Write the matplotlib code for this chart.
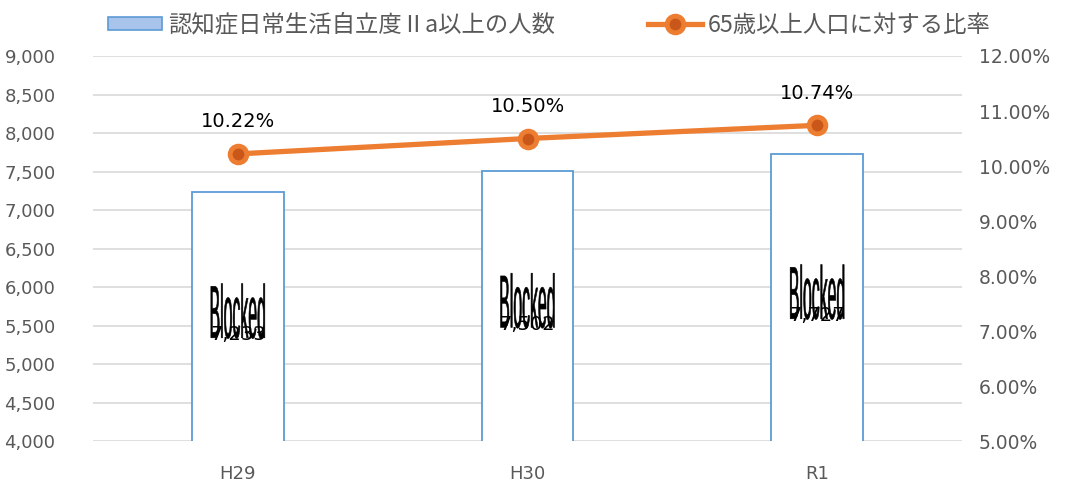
import matplotlib
matplotlib.use("Agg")
import matplotlib.pyplot as plt
from matplotlib.patches import Patch, PathPatch
from matplotlib.lines import Line2D
from matplotlib.textpath import TextPath
from matplotlib.font_manager import FontProperties
from matplotlib.transforms import Affine2D, ScaledTranslation
import numpy as np

plt.rcParams['font.family'] = ['DejaVu Sans', 'Noto Sans CJK JP']

categories = ["H29", "H30", "R1"]
counts = [7233, 7502, 7727]
ratios = [0.1022, 0.1050, 0.1074]
bar_label_text = ["7,233", "7,502", "7,727"]
ratio_label_text = ["10.22%", "10.50%", "10.74%"]
left_ticks = [4000, 4500, 5000, 5500, 6000, 6500, 7000, 7500, 8000, 8500, 9000]
right_ticks = [0.05, 0.06, 0.07, 0.08, 0.09, 0.10, 0.11, 0.12]
legend_labels = ["認知症日常生活自立度Ⅱa以上の人数", "65歳以上人口に対する比率"]

GRAY = "#595959"
BLUE = "#5B9BD5"
ORANGE = "#ED7D31"

fig = plt.figure(figsize=(10.67, 4.84), dpi=100)
ax = fig.add_axes([0.0872, 0.0888, 0.9016 - 0.0872, 0.8843 - 0.0888])
x = np.arange(len(categories))

ax.bar(x, counts, width=0.317, color="white", edgecolor=BLUE, linewidth=1.3, zorder=2)
ax.set_xlim(-0.5, 2.5)
ax.set_ylim(4000, 9000)
ax.set_yticks(left_ticks)
ax.set_yticklabels([f"{v:,}" for v in left_ticks])
ax.grid(axis="y", color="#D9D9D9", linewidth=1.2, zorder=0)
ax.set_axisbelow(True)
ax.set_xticks(x)
ax.set_xticklabels(categories)
for s in ax.spines.values():
    s.set_visible(False)
ax.tick_params(axis="both", length=0, colors=GRAY, labelsize=13)
ax.tick_params(axis="y", pad=27)
ax.tick_params(axis="x", pad=17)

ax2 = ax.twinx()
ax2.set_ylim(0.05, 0.12)
ax2.set_yticks(right_ticks)
ax2.set_yticklabels([f"{v*100:.2f}%" for v in right_ticks])
for s in ax2.spines.values():
    s.set_visible(False)
ax2.tick_params(axis="y", length=0, colors=GRAY, labelsize=13.5, pad=12)
ax2.plot(x, ratios, color=ORANGE, linewidth=3.8, marker="o", markersize=12,
         markerfacecolor="#C9571A", markeredgecolor=ORANGE, markeredgewidth=3.5, zorder=5)

for xi, r, t in zip(x, ratios, ratio_label_text):
    ax2.annotate(t, (xi, r), xytext=(0, 23), textcoords="offset points",
                 ha="center", va="center", fontsize=14, color="black")

# "Blocked" placeholder text, stretched
fp = FontProperties(family="Liberation Sans")
tp = TextPath((0, 0), "Blocked", size=10, prop=fp)
ext = tp.get_extents()
for xi, c, t in zip(x, counts, bar_label_text):
    mid = (c + 4000) / 2
    sx = 54 / ext.width
    sy = 55 / ext.height
    tr = Affine2D().translate(-(ext.x0 + ext.width / 2), -ext.y0).scale(sx, sy).translate(0, -22) \
        + ScaledTranslation(xi, mid, ax.transData)
    ax.add_patch(PathPatch(tp, facecolor="black", edgecolor="black", linewidth=0.4,
                           transform=tr, zorder=6))
    ax.annotate(t, (xi, mid), xytext=(0, -13), textcoords="offset points",
                ha="center", va="center", fontsize=14, color="black", zorder=7)

handles = [Patch(facecolor="#A9C4EB", edgecolor=BLUE, linewidth=1.2),
           Line2D([0], [0], color=ORANGE, linewidth=3.8, marker="o", markersize=12,
                  markerfacecolor="#C9571A", markeredgecolor=ORANGE, markeredgewidth=3.5)]
leg = fig.legend(handles, legend_labels, loc="upper center", bbox_to_anchor=(0.515, 1.015),
                 ncol=2, frameon=False, handlelength=2.3, handleheight=0.5,
                 columnspacing=4.0, handletextpad=0.25,
                 prop=FontProperties(family=["Noto Sans CJK JP", "DejaVu Sans"], size=16.8))
for t in leg.get_texts():
    t.set_color(GRAY)

fig.savefig("out.png", dpi=100)
